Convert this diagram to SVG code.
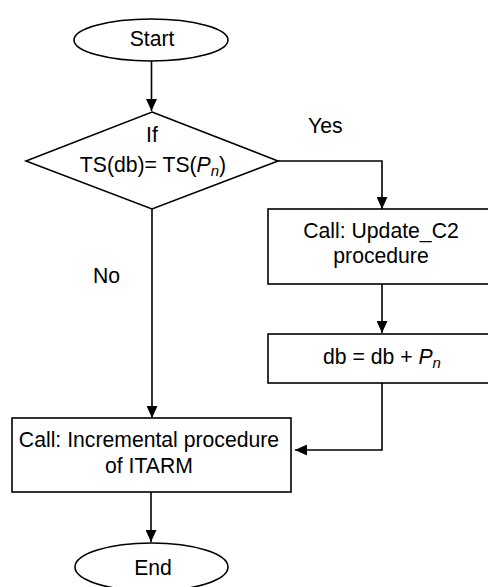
<svg xmlns="http://www.w3.org/2000/svg" width="488" height="587" viewBox="0 0 488 587">
<style>
.s{fill:#fff;stroke:#000;stroke-width:1.6}
.c{fill:none;stroke:#000;stroke-width:1.6}
text{font-family:"Liberation Sans",Arial,sans-serif;font-size:21.2px;fill:#000}
.m{text-anchor:middle}
</style>
<defs>
<marker id="a" markerWidth="12" markerHeight="11" refX="12" refY="5.5" orient="auto" markerUnits="userSpaceOnUse">
<path d="M0,0 L12,5.5 L0,11 Z" fill="#000"/>
</marker>
</defs>
<rect width="488" height="587" fill="#fff"/>
<g id="connectors">
<line class="c" x1="151.5" y1="61" x2="151.5" y2="111" marker-end="url(#a)"/>
<polyline class="c" points="278,161 382,161 382,209" marker-end="url(#a)"/>
<line class="c" x1="382" y1="284" x2="382" y2="333" marker-end="url(#a)"/>
<polyline class="c" points="382,383 382,450 295,450" marker-end="url(#a)"/>
<line class="c" x1="152" y1="209" x2="152" y2="418" marker-end="url(#a)"/>
<line class="c" x1="151" y1="492" x2="151" y2="542" marker-end="url(#a)"/>
<text x="308" y="133">Yes</text>
<text x="93" y="283">No</text>
</g>
<g id="start">
<ellipse class="s" cx="151" cy="40" rx="77" ry="21"/>
<text class="m" x="152" y="46">Start</text>
</g>
<g id="decision">
<polygon class="s" points="152,112 278,161 152,209 26,161"/>
<text class="m" x="152" y="142">If</text>
<text class="m" x="153" y="172">TS(db)= TS(<tspan font-style="italic">P</tspan><tspan font-style="italic" font-size="15" dy="4">n</tspan><tspan dy="-4">)</tspan></text>
</g>
<g id="update">
<rect class="s" x="268" y="209" width="228" height="75"/>
<text class="m" x="381" y="238">Call: Update_C2</text>
<text class="m" x="381" y="263">procedure</text>
</g>
<g id="assign">
<rect class="s" x="268" y="334" width="228" height="49"/>
<text class="m" x="382" y="364">db = db + <tspan font-style="italic">P</tspan><tspan font-style="italic" font-size="15" dy="4">n</tspan></text>
</g>
<g id="incremental">
<rect class="s" x="12" y="418" width="279" height="74"/>
<text class="m" x="149" y="447">Call: Incremental procedure</text>
<text class="m" x="149" y="473">of ITARM</text>
</g>
<g id="end">
<ellipse class="s" cx="151.5" cy="567" rx="76.5" ry="24"/>
<text class="m" x="153" y="575">End</text>
</g>
</svg>
